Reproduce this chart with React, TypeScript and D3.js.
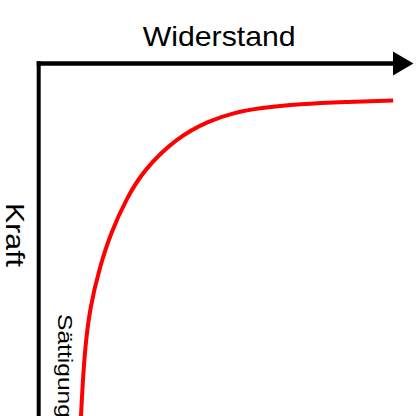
import React from "react";
import * as d3 from "d3";

// Widerstand (x) and Kraft (y) values of the saturation curve, arbitrary units 0..100
const widerstand = [11.2, 11.5, 12.3, 13.7, 16.3, 19.2, 23.6, 28.0, 36.9, 45.6, 52.0, 59.1, 69.8, 82.0, 94.7];
const kraft = [102, 95.5, 81.3, 69.1, 57.8, 48.2, 38.0, 30.3, 21.0, 16.2, 14.0, 12.6, 11.5, 10.9, 10.5];

const xLabel = "Widerstand";
const yLabel = "Kraft";
const curveLabel = "Sättigung";

const W = 420;
const H = 416;

export default function App() {
  const x = d3.scaleLinear().domain([0, 100]).range([38.7, 413]);
  const y = d3.scaleLinear().domain([0, 100]).range([63.5, 416]);

  const pts: [number, number][] = widerstand.map((w, i) => [w, kraft[i]]);
  const line = d3
    .line<[number, number]>()
    .x((d) => x(d[0]))
    .y((d) => y(d[1]))
    .curve(d3.curveBasis);

  const x0 = x(0);
  const y0 = y(0);
  const arrowBase = 393;
  const arrowTip = 413.5;
  const font = "'Liberation Sans', Arial, sans-serif";

  return (
    <svg
      width={W}
      height={H}
      style={{ position: "absolute", left: 0, top: 0, background: "#fff" }}
    >
      <rect width={W} height={H} fill="#fff" />
      {/* axes */}
      <line x1={x0 - 2} y1={y0} x2={arrowBase + 1} y2={y0} stroke="#000" strokeWidth={4.5} />
      <line x1={x0} y1={y0 - 2.2} x2={x0} y2={H + 5} stroke="#000" strokeWidth={4} />
      <path
        d={`M${arrowBase},${y0 - 12} L${arrowTip},${y0} L${arrowBase},${y0 + 12} Z`}
        fill="#000"
      />
      {/* curve */}
      <path d={line(pts) || ""} fill="none" stroke="#ff0000" strokeWidth={4} />
      {/* labels */}
      <text
        x={142.7}
        y={45.7}
        fontFamily={font}
        fontSize={28}
        textLength={153}
        lengthAdjust="spacingAndGlyphs"
        fill="#000"
      >
        {xLabel}
      </text>
      <text
        transform="translate(6,203) rotate(90)"
        fontFamily={font}
        fontSize={26}
        textLength={64}
        lengthAdjust="spacingAndGlyphs"
        fill="#000"
      >
        {yLabel}
      </text>
      <text
        transform="translate(57.5,314) rotate(90)"
        fontFamily={font}
        fontSize={20}
        textLength={104}
        lengthAdjust="spacingAndGlyphs"
        fill="#000"
      >
        {curveLabel}
      </text>
    </svg>
  );
}
